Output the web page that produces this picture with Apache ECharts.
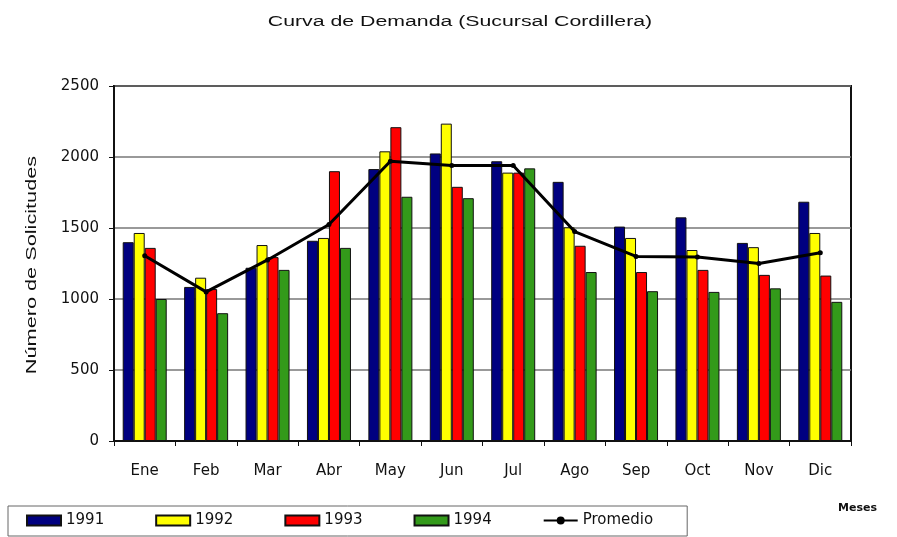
<!DOCTYPE html>
<html>
<head>
<meta charset="utf-8">
<script src="https://cdn.jsdelivr.net/npm/echarts@6/dist/echarts.min.js"></script>
<style>
  html, body { margin: 0; padding: 0; background: #fff; }
  #chart { width: 897px; height: 537px; }
</style>
</head>
<body>
<div id="chart"></div>
<script>
const months = ['Ene', 'Feb', 'Mar', 'Abr', 'May', 'Jun', 'Jul', 'Ago', 'Sep', 'Oct', 'Nov', 'Dic'];
const y1991 = [1400, 1085, 1220, 1410, 1915, 2025, 1970, 1825, 1510, 1575, 1395, 1685];
const y1992 = [1465, 1150, 1380, 1430, 2040, 2235, 1890, 1505, 1430, 1345, 1365, 1465];
const y1993 = [1360, 1070, 1295, 1900, 2210, 1790, 1890, 1375, 1190, 1205, 1170, 1165];
const y1994 = [1000, 900, 1205, 1360, 1720, 1710, 1920, 1190, 1055, 1050, 1075, 980];
const promedio = [1305, 1050, 1275, 1525, 1970, 1940, 1940, 1475, 1300, 1295, 1250, 1325];
const yTicks = { min: 0, max: 2500, interval: 500 };

const font = 'DejaVu Sans, Arial, sans-serif';
const wideFont = 'Liberation Sans, Arial, sans-serif';

function barSeries(name, data, color) {
  return {
    name: name,
    type: 'bar',
    data: data,
    barWidth: 11,
    barGap: '0%',
    itemStyle: { color: color, borderColor: '#111', borderWidth: 1 }
  };
}

const chart = echarts.init(document.getElementById('chart'));
chart.setOption({
  animation: false,
  backgroundColor: '#fff',
  textStyle: { fontFamily: font },
  grid: {
    left: 114, right: 46, top: 86, bottom: 96,
    show: true, borderColor: '#111', borderWidth: 2, backgroundColor: '#fff'
  },
  legend: {
    left: 8, top: 506, width: 690,
    padding: [7, 34, 8, 18],
    itemGap: 51,
    itemWidth: 34, itemHeight: 10,
    borderColor: '#666', borderWidth: 1,
    textStyle: { fontSize: 15, color: '#111', fontFamily: font },
    data: [
      { name: '1991', icon: 'rect' },
      { name: '1992', icon: 'rect' },
      { name: '1993', icon: 'rect' },
      { name: '1994', icon: 'rect' },
      { name: 'Promedio' }
    ]
  },
  graphic: [
    {
      // title, stretched wide as in the original
      type: 'text', x: 460, y: 22, scaleX: 1.52,
      style: {
        text: 'Curva de Demanda (Sucursal Cordillera)', align: 'center', verticalAlign: 'middle',
        fontSize: 14, fill: '#111', fontFamily: wideFont
      }
    },
    {
      type: 'text', x: 32, y: 265, rotation: Math.PI / 2, scaleX: 1.55,
      style: {
        text: 'Número de Solicitudes', align: 'center', verticalAlign: 'middle',
        fontSize: 14, fill: '#111', fontFamily: wideFont
      }
    },
    {
      type: 'text', left: 838, top: 503,
      style: { text: 'Meses', fontSize: 11, fontWeight: 'bold', fill: '#111', fontFamily: font }
    }
  ],
  xAxis: {
    type: 'category',
    data: months,
    axisLine: { lineStyle: { color: '#111', width: 2 } },
    axisTick: { show: true, length: 5, lineStyle: { color: '#111' } },
    axisLabel: { fontSize: 15, color: '#111', margin: 23, fontFamily: font }
  },
  yAxis: {
    type: 'value',
    min: yTicks.min, max: yTicks.max, interval: yTicks.interval,
    axisLine: { show: true, lineStyle: { color: '#111', width: 2 } },
    axisTick: { show: true, length: 5, lineStyle: { color: '#111' } },
    axisLabel: { fontSize: 15, color: '#111', margin: 15, fontFamily: font, formatter: v => String(v) },
    splitLine: { lineStyle: { color: '#777', width: 1.5 } }
  },
  series: [
    barSeries('1991', y1991, '#000080'),
    barSeries('1992', y1992, '#ffff00'),
    barSeries('1993', y1993, '#ff0000'),
    barSeries('1994', y1994, '#339a1a'),
    {
      name: 'Promedio',
      type: 'line',
      data: promedio,
      symbol: 'circle',
      symbolSize: 5,
      lineStyle: { color: '#000', width: 3 },
      itemStyle: { color: '#000' },
      z: 5
    }
  ]
});
</script>
</body>
</html>
